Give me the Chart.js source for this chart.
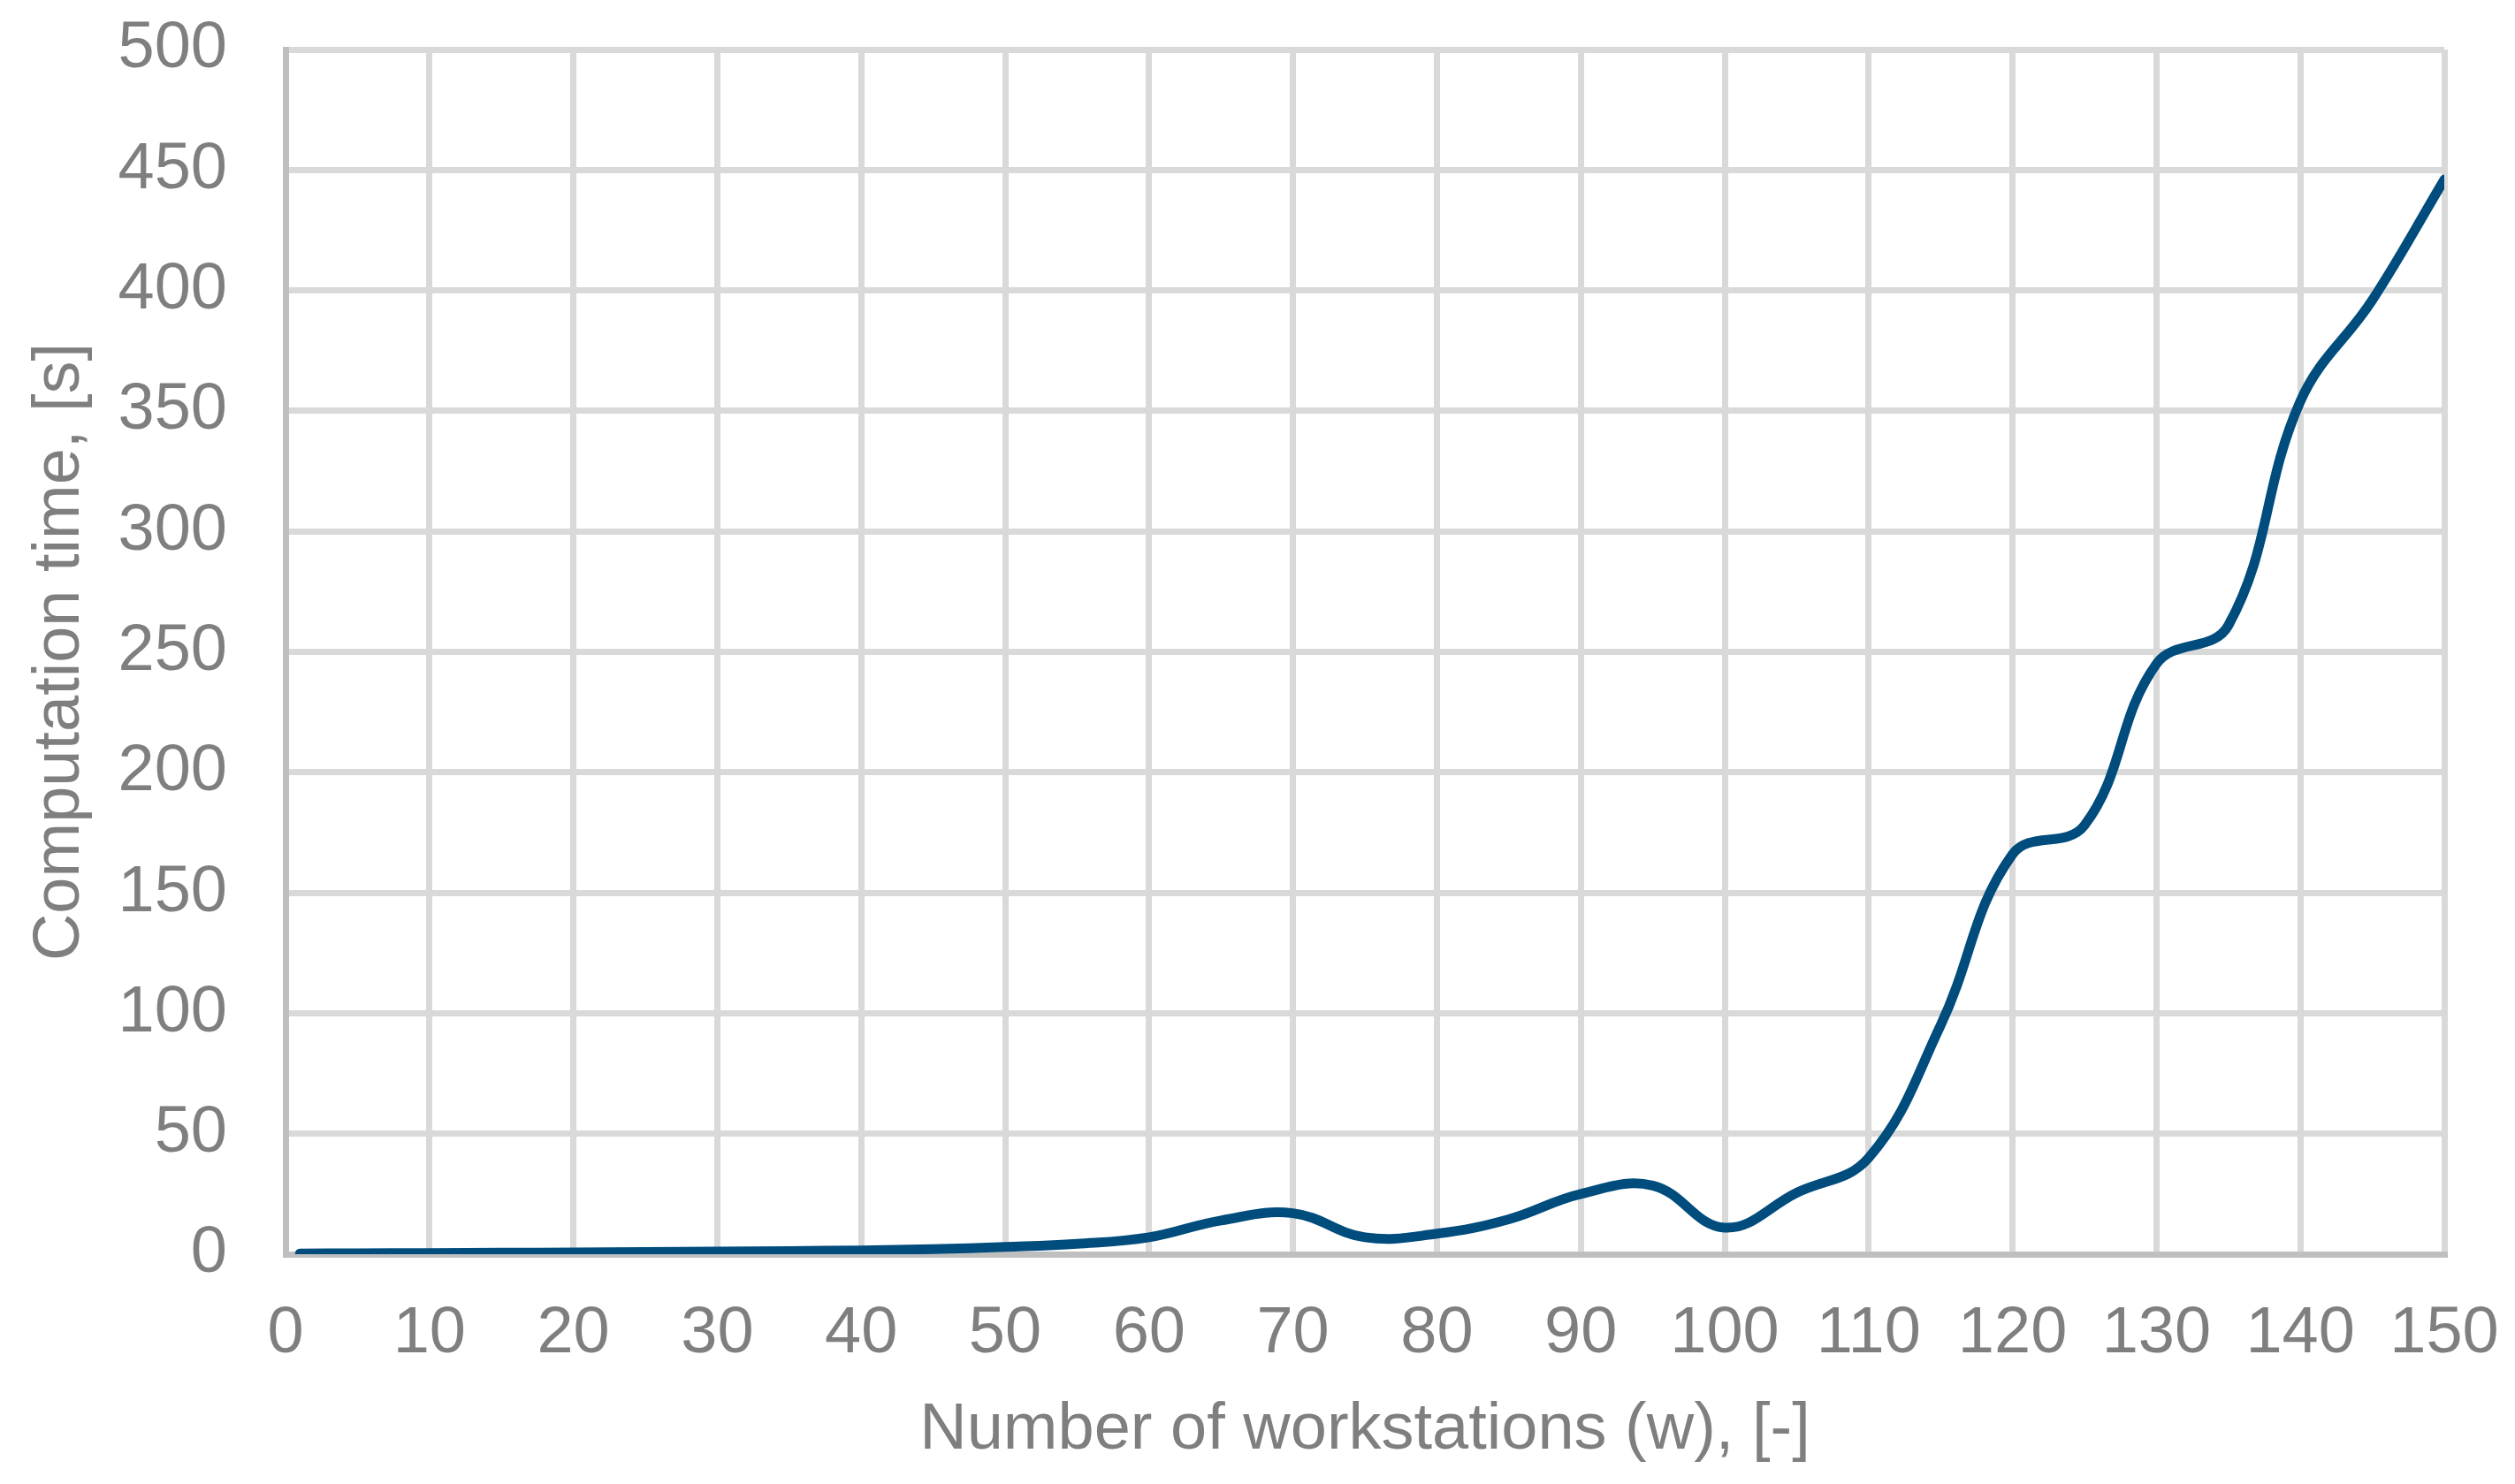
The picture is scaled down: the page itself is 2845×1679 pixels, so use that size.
<!DOCTYPE html>
<html>
<head>
<meta charset="utf-8">
<script src="https://cdn.jsdelivr.net/npm/chart.js@4.4.1/dist/chart.umd.min.js"></script>
<style>
  html, body { margin: 0; padding: 0; background: #fff; }
  canvas { display: block; }
</style>
</head>
<body>
<canvas id="rel1" width="2845" height="1679"></canvas>
<script>
var workstations = [1, 5, 10, 15, 20, 25, 30, 35, 40, 45, 50, 55, 60, 65, 70, 75, 80, 85, 90, 95, 100, 105, 110, 115, 120, 125, 130, 135, 140, 145, 150];
var compTime = [0.3, 0.4, 0.5, 0.6, 0.7, 0.9, 1.1, 1.3, 1.6, 2.1, 3.0, 4.3, 7, 14, 17, 7, 8.5, 14.5, 25, 28.5, 11, 25.5, 40, 95, 166, 178, 245, 261, 354, 396, 446];
var xTitle = "Number of workstations (w), [-]";
var yTitle = "Computation time, [s]";

var points = workstations.map(function (w, i) { return { x: w, y: compTime[i] }; });

var grey = "#7f7f7f";
var tickFont = { family: "Liberation Sans, Arial, sans-serif", size: 74 };

var obj1 = document.getElementById("rel1");
var rel1 = new Chart(obj1, {
  type: "line",
  data: {
    datasets: [
      {
        label: yTitle,
        data: points,
        fill: false,
        borderColor: "#004c7d",
        backgroundColor: "#004c7d",
        borderWidth: 11,
        pointRadius: 0,
        tension: 0.4,
        borderCapStyle: "round",
        borderJoinStyle: "round"
      }
    ]
  },
  options: {
    responsive: false,
    devicePixelRatio: 1,
    animation: false,
    layout: { padding: { left: 0, top: 56, right: 80, bottom: 0 } },
    plugins: { legend: { display: false }, tooltip: { enabled: false } },
    scales: {
      x: {
        type: "linear",
        min: 0,
        max: 150,
        ticks: { stepSize: 10, color: grey, font: tickFont, padding: 46, maxRotation: 0 },
        grid: { color: "#d9d9d9", lineWidth: 7, drawTicks: false },
        border: { color: "#bfbfbf", width: 7 },
        title: { display: true, text: xTitle, color: grey, font: tickFont, padding: { top: 0, bottom: 16 } },
        afterFit: function (scale) {
          scale.height = 260;
          scale.paddingLeft = 0;
          scale.paddingRight = 0;
        }
      },
      y: {
        min: 0,
        max: 500,
        ticks: { stepSize: 50, color: grey, font: tickFont, padding: 66 },
        grid: { color: "#d9d9d9", lineWidth: 7, drawTicks: false },
        border: { color: "#bfbfbf", width: 7 },
        title: { display: true, text: yTitle, color: grey, font: tickFont, padding: { top: 24, bottom: 0 } },
        afterFit: function (scale) {
          scale.width = 323;
          scale.paddingTop = 0;
          scale.paddingBottom = 0;
        }
      }
    }
  }
});
</script>
</body>
</html>
